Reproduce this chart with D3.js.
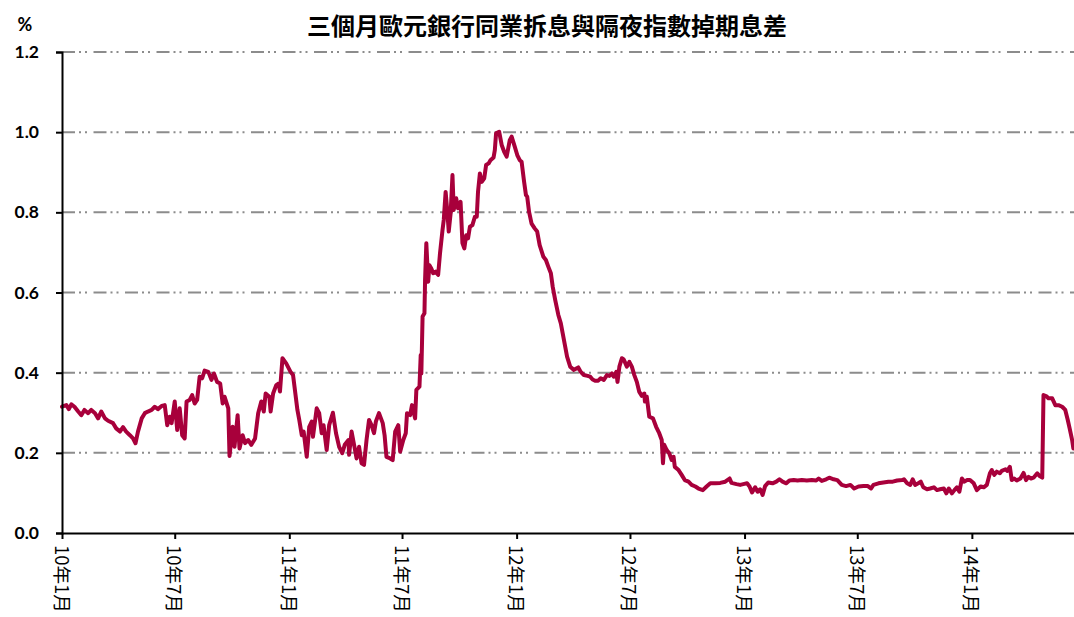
<!DOCTYPE html>
<html>
<head>
<meta charset="utf-8">
<script src="https://cdn.jsdelivr.net/npm/d3@7"></script>
<style>
  body { margin: 0; background: #ffffff; }
  svg { display: block; }
</style>
</head>
<body>
<svg id="chart" width="1074" height="617"></svg>
<script>
// Spread between 3-month EURIBOR and EONIA swap rate (percentage points)
const chartTitle = "三個月歐元銀行同業拆息與隔夜指數掉期息差";
const unitLabel = "%";

const dates = [
  "2010-01-01","2010-01-08","2010-01-12","2010-01-16","2010-01-21","2010-01-27","2010-02-01","2010-02-06","2010-02-12","2010-02-17",
  "2010-02-23","2010-02-28","2010-03-05","2010-03-11","2010-03-16","2010-03-24","2010-03-29","2010-04-04","2010-04-09","2010-04-14",
  "2010-04-20","2010-04-25","2010-04-29","2010-05-03","2010-05-09","2010-05-14","2010-05-19","2010-05-25","2010-05-30","2010-06-04",
  "2010-06-10","2010-06-15","2010-06-19","2010-06-23","2010-06-26","2010-07-01","2010-07-05","2010-07-09","2010-07-13","2010-07-17",
  "2010-07-20","2010-07-25","2010-07-29","2010-08-02","2010-08-06","2010-08-10","2010-08-14","2010-08-18","2010-08-24","2010-08-29",
  "2010-09-02","2010-09-07","2010-09-12","2010-09-16","2010-09-19","2010-09-25","2010-09-27","2010-10-02","2010-10-05","2010-10-10",
  "2010-10-13","2010-10-18","2010-10-22","2010-10-27","2010-11-01","2010-11-07","2010-11-12","2010-11-17","2010-11-21","2010-11-24",
  "2010-11-30","2010-12-02","2010-12-06","2010-12-11","2010-12-15","2010-12-17","2010-12-21","2010-12-27","2011-01-03","2011-01-07",
  "2011-01-14","2011-01-17","2011-01-21","2011-01-24","2011-01-29","2011-02-02","2011-02-06","2011-02-08","2011-02-14","2011-02-18",
  "2011-02-22","2011-02-25","2011-03-02","2011-03-06","2011-03-12","2011-03-17","2011-03-22","2011-03-27","2011-03-31","2011-04-06",
  "2011-04-07","2011-04-11","2011-04-15","2011-04-19","2011-04-23","2011-04-27","2011-05-01","2011-05-05","2011-05-09","2011-05-13",
  "2011-05-17","2011-05-20","2011-05-25","2011-05-31","2011-06-03","2011-06-06","2011-06-12","2011-06-16","2011-06-20","2011-06-25",
  "2011-06-28","2011-07-03","2011-07-07","2011-07-09","2011-07-14","2011-07-17","2011-07-22","2011-07-24","2011-07-29","2011-07-31",
  "2011-08-01","2011-08-03","2011-08-06","2011-08-07","2011-08-09","2011-08-12","2011-08-14","2011-08-17","2011-08-20","2011-08-24",
  "2011-08-28","2011-08-31","2011-09-04","2011-09-06","2011-09-09","2011-09-12","2011-09-14","2011-09-17","2011-09-20","2011-09-22",
  "2011-09-26","2011-09-29","2011-10-03","2011-10-06","2011-10-09","2011-10-12","2011-10-15","2011-10-18","2011-10-22","2011-10-26",
  "2011-10-29","2011-10-31","2011-11-03","2011-11-06","2011-11-10","2011-11-13","2011-11-17","2011-11-20","2011-11-25","2011-11-27",
  "2011-11-29","2011-12-04","2011-12-08","2011-12-12","2011-12-16","2011-12-21","2011-12-24","2011-12-29","2012-01-02","2012-01-06",
  "2012-01-09","2012-01-13","2012-01-16","2012-01-18","2012-01-21","2012-01-25","2012-01-30","2012-02-03","2012-02-07","2012-02-13",
  "2012-02-17","2012-02-21","2012-02-25","2012-02-28","2012-03-03","2012-03-08","2012-03-12","2012-03-15","2012-03-19","2012-03-22",
  "2012-03-27","2012-04-02","2012-04-09","2012-04-13","2012-04-18","2012-04-24","2012-04-28","2012-05-02","2012-05-06","2012-05-11",
  "2012-05-15","2012-05-20","2012-05-25","2012-05-29","2012-06-02","2012-06-05","2012-06-09","2012-06-11","2012-06-14","2012-06-18",
  "2012-06-21","2012-06-26","2012-06-30","2012-07-04","2012-07-08","2012-07-12","2012-07-16","2012-07-20","2012-07-24","2012-07-25",
  "2012-07-28","2012-08-01","2012-08-07","2012-08-12","2012-08-17","2012-08-21","2012-08-23","2012-08-25","2012-08-29","2012-09-02",
  "2012-09-06","2012-09-09","2012-09-11","2012-09-17","2012-09-22","2012-09-27","2012-10-03","2012-10-08","2012-10-14","2012-10-19",
  "2012-10-26","2012-11-01","2012-11-07","2012-11-15","2012-11-23","2012-12-01","2012-12-08","2012-12-11","2012-12-19","2012-12-25",
  "2012-12-30","2013-01-05","2013-01-09","2013-01-13","2013-01-18","2013-01-22","2013-01-26","2013-01-30","2013-02-03","2013-02-08",
  "2013-02-15","2013-02-21","2013-02-26","2013-03-03","2013-03-09","2013-03-14","2013-03-21","2013-03-27","2013-04-03","2013-04-11",
  "2013-04-19","2013-04-26","2013-04-30","2013-05-05","2013-05-12","2013-05-17","2013-05-24","2013-05-30","2013-06-06","2013-06-13",
  "2013-06-20","2013-06-26","2013-07-03","2013-07-11","2013-07-18","2013-07-23","2013-07-27","2013-08-04","2013-08-12","2013-08-20",
  "2013-08-27","2013-09-03","2013-09-11","2013-09-14","2013-09-19","2013-09-24","2013-09-28","2013-10-02","2013-10-07","2013-10-11",
  "2013-10-15","2013-10-21","2013-10-26","2013-11-01","2013-11-06","2013-11-11","2013-11-17","2013-11-21","2013-11-25","2013-11-30",
  "2013-12-04","2013-12-08","2013-12-12","2013-12-16","2013-12-20","2013-12-24","2013-12-29","2014-01-04","2014-01-09","2014-01-15",
  "2014-01-20","2014-01-25","2014-01-30","2014-02-02","2014-02-06","2014-02-10","2014-02-15","2014-02-18","2014-02-24","2014-02-27",
  "2014-03-03","2014-03-06","2014-03-10","2014-03-14","2014-03-20","2014-03-25","2014-03-29","2014-04-02","2014-04-06","2014-04-10",
  "2014-04-16","2014-04-20","2014-04-24","2014-04-26","2014-05-01","2014-05-04","2014-05-10","2014-05-15","2014-05-20","2014-05-26",
  "2014-05-31","2014-06-04","2014-06-07","2014-06-11","2014-06-13"
];

const spread = [
  0.315,0.319,0.309,0.321,0.315,0.303,0.294,0.307,0.299,0.307,
  0.299,0.286,0.303,0.286,0.280,0.274,0.261,0.253,0.264,0.253,
  0.244,0.236,0.224,0.253,0.286,0.299,0.303,0.307,0.315,0.309,
  0.317,0.319,0.269,0.290,0.274,0.328,0.257,0.311,0.244,0.236,
  0.328,0.332,0.344,0.323,0.332,0.390,0.386,0.405,0.402,0.382,
  0.398,0.377,0.373,0.323,0.340,0.311,0.192,0.265,0.215,0.294,
  0.211,0.244,0.224,0.232,0.220,0.236,0.299,0.328,0.303,0.348,
  0.340,0.303,0.348,0.369,0.373,0.353,0.436,0.423,0.402,0.394,
  0.307,0.282,0.244,0.253,0.190,0.265,0.278,0.240,0.311,0.299,
  0.249,0.269,0.207,0.269,0.300,0.249,0.215,0.199,0.220,0.232,
  0.195,0.253,0.220,0.186,0.215,0.174,0.170,0.232,0.282,0.269,
  0.249,0.278,0.299,0.274,0.244,0.190,0.186,0.182,0.253,0.269,
  0.203,0.232,0.249,0.299,0.294,0.319,0.286,0.357,0.365,0.444,
  0.398,0.540,0.548,0.631,0.723,0.627,0.668,0.660,0.648,0.652,
  0.644,0.698,0.756,0.781,0.851,0.797,0.752,0.797,0.893,0.806,
  0.835,0.810,0.826,0.723,0.710,0.743,0.735,0.764,0.768,0.789,
  0.789,0.851,0.897,0.876,0.885,0.918,0.922,0.930,0.937,0.955,
  0.997,1.001,0.968,0.951,0.939,0.980,0.989,0.964,0.943,0.930,
  0.926,0.876,0.843,0.839,0.801,0.772,0.760,0.752,0.718,0.689,
  0.681,0.664,0.648,0.614,0.581,0.544,0.523,0.498,0.465,0.440,
  0.415,0.407,0.413,0.402,0.394,0.392,0.390,0.383,0.380,0.380,
  0.386,0.382,0.394,0.392,0.398,0.390,0.402,0.377,0.415,0.436,
  0.433,0.415,0.427,0.415,0.394,0.377,0.352,0.342,0.348,0.328,
  0.340,0.290,0.286,0.265,0.249,0.232,0.174,0.220,0.207,0.199,
  0.182,0.190,0.165,0.157,0.145,0.132,0.128,0.120,0.116,0.111,
  0.107,0.116,0.124,0.124,0.125,0.128,0.136,0.125,0.122,0.120,
  0.122,0.124,0.116,0.101,0.114,0.103,0.109,0.095,0.117,0.126,
  0.124,0.128,0.134,0.128,0.124,0.131,0.132,0.131,0.132,0.131,
  0.132,0.131,0.136,0.130,0.134,0.138,0.134,0.132,0.120,0.117,
  0.120,0.111,0.116,0.117,0.117,0.111,0.120,0.124,0.126,0.128,
  0.128,0.131,0.132,0.134,0.124,0.120,0.134,0.120,0.124,0.128,
  0.114,0.109,0.111,0.114,0.107,0.109,0.111,0.099,0.111,0.099,
  0.107,0.114,0.103,0.136,0.128,0.132,0.132,0.124,0.107,0.116,
  0.114,0.120,0.149,0.157,0.145,0.153,0.149,0.155,0.159,0.155,
  0.165,0.132,0.136,0.131,0.136,0.150,0.132,0.140,0.136,0.138,
  0.149,0.142,0.138,0.344,0.341,0.336,0.336,0.319,0.319,0.315,
  0.307,0.282,0.261,0.232,0.211
];

const yTicks = [0.0, 0.2, 0.4, 0.6, 0.8, 1.0, 1.2];
const xTickDates = ["2010-01-01","2010-07-01","2011-01-01","2011-07-01","2012-01-01","2012-07-01","2013-01-01","2013-07-01","2014-01-01"];
const xTickLabels = ["10年1月","10年7月","11年1月","11年7月","12年1月","12年7月","13年1月","13年7月","14年1月"];
const xDomain = ["2010-01-01", "2014-06-14"];

const parse = d3.timeParse("%Y-%m-%d");
const series = dates.map((d, i) => ({ date: parse(d), value: spread[i] }));

const plot = { left: 62, right: 1074, top: 52, bottom: 533 };

const svg = d3.select("#chart");

const x = d3.scaleTime()
  .domain(xDomain.map(parse))
  .range([plot.left, plot.right]);

const y = d3.scaleLinear()
  .domain([0, 1.2])
  .range([plot.bottom, plot.top]);

const numFont = "Lato, 'Open Sans', sans-serif";
const cjkFont = "'Noto Sans CJK TC', 'Noto Sans CJK SC', sans-serif";

// Horizontal gridlines (dash-dot-dot)
svg.append("g")
  .selectAll("line")
  .data(yTicks.filter(v => v > 0))
  .join("line")
  .attr("x1", plot.left)
  .attr("x2", plot.right)
  .attr("y1", d => y(d))
  .attr("y2", d => y(d))
  .attr("stroke", "#8c8c8c")
  .attr("stroke-width", 2)
  .attr("stroke-dasharray", "13,4,2,4,2,6.5");

// Spread line
svg.append("path")
  .datum(series)
  .attr("fill", "none")
  .attr("stroke", "#a8003b")
  .attr("stroke-width", 4)
  .attr("stroke-linejoin", "round")
  .attr("stroke-linecap", "round")
  .attr("d", d3.line().x(d => x(d.date)).y(d => y(d.value)));

// Y axis
const yAxis = svg.append("g")
  .attr("transform", `translate(${plot.left},0)`)
  .call(d3.axisLeft(y).tickValues(yTicks).tickFormat(d3.format(".1f")).tickSize(6).tickPadding(17));
yAxis.select(".domain").attr("stroke", "#000").attr("stroke-width", 2);
yAxis.selectAll(".tick line").attr("stroke", "#000").attr("stroke-width", 2);
yAxis.selectAll(".tick text")
  .attr("font-family", numFont)
  .attr("font-size", 17.5)
  .attr("font-weight", "bold")
  .attr("fill", "#000");

// X axis
const xAxis = svg.append("g")
  .attr("transform", `translate(0,${plot.bottom})`)
  .call(d3.axisBottom(x)
    .tickValues(xTickDates.map(parse))
    .tickFormat((d, i) => xTickLabels[i])
    .tickSize(6)
    .tickSizeOuter(0));
xAxis.select(".domain").attr("stroke", "#000").attr("stroke-width", 2);
xAxis.selectAll(".tick line").attr("stroke", "#000").attr("stroke-width", 2);
xAxis.selectAll(".tick text")
  .attr("font-family", cjkFont)
  .attr("font-size", 18.5)
  .attr("fill", "#000")
  .attr("text-anchor", "start")
  .attr("dy", null)
  .attr("y", 0)
  .attr("dominant-baseline", "central")
  .attr("transform", "translate(0,12) rotate(90)");

// Unit label
svg.append("text")
  .attr("x", 25)
  .attr("y", 31)
  .attr("text-anchor", "middle")
  .attr("font-family", numFont)
  .attr("font-size", 18)
  .attr("font-weight", "bold")
  .attr("fill", "#000")
  .text(unitLabel);

// Title
svg.append("text")
  .attr("x", 547)
  .attr("y", 35)
  .attr("text-anchor", "middle")
  .attr("font-family", cjkFont)
  .attr("font-size", 24)
  .attr("font-weight", "bold")
  .attr("fill", "#000")
  .text(chartTitle);
</script>
</body>
</html>
